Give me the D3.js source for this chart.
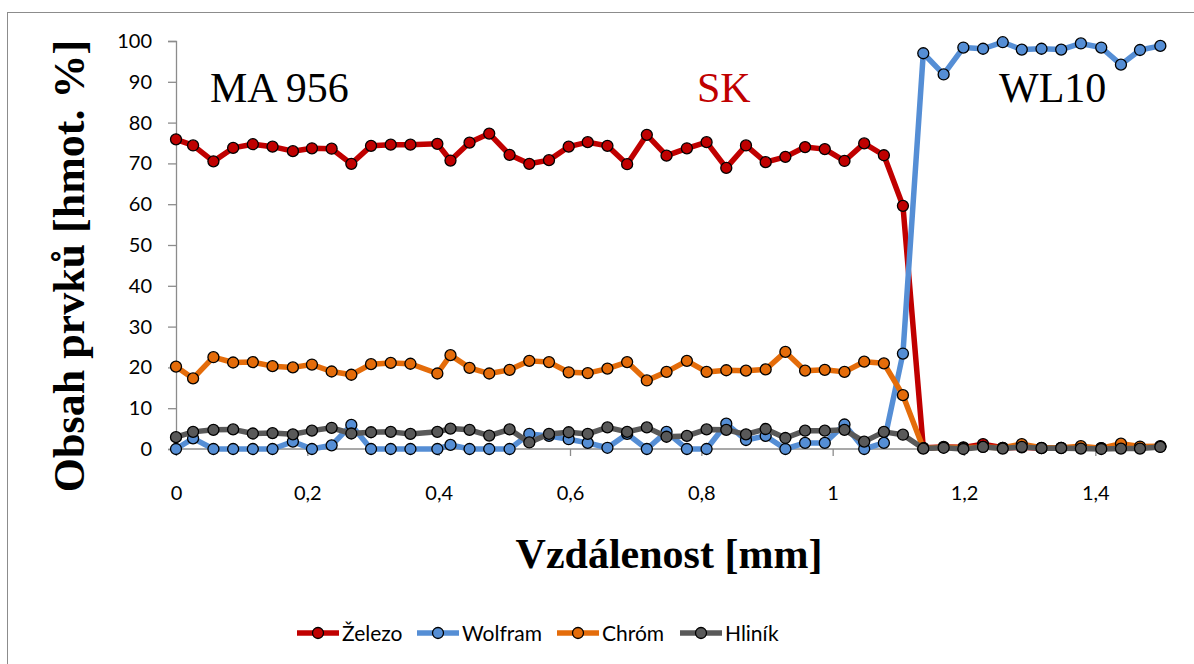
<!DOCTYPE html>
<html>
<head>
<meta charset="utf-8">
<script src="https://cdn.jsdelivr.net/npm/d3@7"></script>
<style>
  html, body { margin: 0; padding: 0; background: #fff; }
  svg { display: block; }
</style>
</head>
<body>
<svg id="chart" width="1194" height="664"></svg>
<script>
// Distance from the interface [mm]
const distance = [0, 0.026, 0.057, 0.087, 0.117, 0.147, 0.178, 0.207, 0.237, 0.267,
  0.297, 0.327, 0.357, 0.398, 0.418, 0.447, 0.477, 0.508, 0.538, 0.568,
  0.598, 0.627, 0.657, 0.687, 0.717, 0.747, 0.778, 0.808, 0.838, 0.868,
  0.898, 0.928, 0.958, 0.988, 1.018, 1.048, 1.078, 1.107, 1.138, 1.169,
  1.199, 1.229, 1.259, 1.288, 1.318, 1.348, 1.378, 1.409, 1.439, 1.468, 1.499];

// Element content [wt. %]
const zelezo = [75.9, 74.4, 70.5, 73.8, 74.7, 74.1, 73.0, 73.7, 73.6, 69.9,
  74.3, 74.6, 74.6, 74.8, 70.7, 75.1, 77.3, 72.1, 69.9, 70.8,
  74.1, 75.2, 74.3, 69.8, 77.0, 71.9, 73.7, 75.2, 68.9, 74.4,
  70.3, 71.6, 74.0, 73.5, 70.6, 74.9, 72.0, 59.6, 0.3, 0.5,
  0.4, 1.2, 0.3, 0.4, 0.2, 0.3, 0.3, 0.2, 0.5, 0.4, 0.6];
const wolfram = [0, 2.6, 0, 0, 0, 0, 1.8, 0, 0.9, 5.9,
  0, 0, 0, 0, 1.0, 0, 0, 0, 3.7, 3.2,
  2.4, 1.5, 0.3, 3.7, 0, 4.2, 0, 0, 6.2, 2.2,
  3.2, 0, 1.5, 1.5, 6.0, 0, 1.5, 23.4, 97.0, 91.8,
  98.4, 98.1, 99.7, 97.9, 98.1, 97.9, 99.4, 98.4, 94.2, 97.8, 98.8];
const chrom = [20.2, 17.3, 22.5, 21.2, 21.3, 20.3, 20.0, 20.7, 19.0, 18.2,
  20.8, 21.1, 20.9, 18.5, 23.0, 19.9, 18.5, 19.4, 21.6, 21.3,
  18.8, 18.6, 19.7, 21.3, 16.8, 18.9, 21.6, 18.9, 19.3, 19.2,
  19.5, 23.8, 19.2, 19.4, 18.9, 21.4, 21.0, 13.2, 0.2, 0.4,
  0.3, 0.5, 0.3, 1.2, 0.3, 0.3, 0.7, 0.2, 1.3, 0.6, 0.7];
const hlinik = [2.9, 4.2, 4.7, 4.8, 3.8, 3.9, 3.6, 4.5, 5.2, 3.8,
  4.1, 4.2, 3.7, 4.2, 5.0, 4.7, 3.3, 4.8, 1.6, 3.7,
  4.1, 3.7, 5.3, 4.2, 5.3, 3.0, 3.2, 4.8, 4.7, 3.6,
  4.9, 2.7, 4.5, 4.5, 4.7, 1.8, 4.2, 3.5, 0.1, 0.3,
  0, 0.5, 0.1, 0.5, 0.2, 0.2, 0.1, 0, 0.1, 0.1, 0.5];

const seriesNames = ["Železo", "Wolfram", "Chróm", "Hliník"];
const seriesColors = ["#C00000", "#558ED5", "#E46C0A", "#595959"];
const yTicks = [0, 10, 20, 30, 40, 50, 60, 70, 80, 90, 100];
const xTicks = [0, 0.2, 0.4, 0.6, 0.8, 1, 1.2, 1.4];
const zoneLabels = ["MA 956", "SK", "WL10"];

const series = [zelezo, wolfram, chrom, hlinik].map((vals, i) => ({
  name: seriesNames[i],
  color: seriesColors[i],
  points: vals.map((v, j) => ({ x: distance[j], y: v }))
}));

const svg = d3.select("#chart");
const axisColor = "#8C8C8C";
const tickFont = "Lato, 'Open Sans', sans-serif";
const serif = "'Liberation Serif', 'Times New Roman', serif";

// outer chart frame
svg.append("rect")
  .attr("x", 7.5).attr("y", 12.5)
  .attr("width", 1220).attr("height", 700)
  .attr("fill", "none").attr("stroke", "#8C8C8C").attr("stroke-width", 1);

const plot = { left: 176, right: 1161, top: 41, bottom: 449 };
const x = d3.scaleLinear().domain([0, 1.5]).range([plot.left, plot.right]);
const y = d3.scaleLinear().domain([0, 100]).range([plot.bottom, plot.top]);

// y axis
const yAxis = svg.append("g")
  .attr("transform", `translate(${plot.left},0)`)
  .call(d3.axisLeft(y).tickValues(yTicks).tickSize(8).tickPadding(16)
    .tickFormat(d => String(d)));
yAxis.select(".domain").attr("stroke", axisColor).attr("stroke-width", 1.3);
yAxis.selectAll(".tick line").attr("stroke", axisColor).attr("stroke-width", 1.3);
yAxis.selectAll(".tick text")
  .attr("font-family", tickFont).attr("font-size", 20).attr("fill", "#000");

// x axis
const xAxis = svg.append("g")
  .attr("transform", `translate(0,${plot.bottom})`)
  .call(d3.axisBottom(x).tickValues(xTicks).tickSize(7).tickPadding(30)
    .tickFormat(d => String(d).replace(".", ",")));
xAxis.select(".domain").attr("stroke", axisColor).attr("stroke-width", 1.3)
  .attr("d", `M${plot.left},0H${plot.right}`);
xAxis.selectAll(".tick line").attr("stroke", axisColor).attr("stroke-width", 1.3);
xAxis.selectAll(".tick text")
  .attr("font-family", tickFont).attr("font-size", 20).attr("fill", "#000");

// series lines and markers
const line = d3.line().x(d => x(d.x)).y(d => y(d.y));
series.forEach(s => {
  const g = svg.append("g");
  g.append("path")
    .attr("d", line(s.points))
    .attr("fill", "none")
    .attr("stroke", s.color)
    .attr("stroke-width", 5.5)
    .attr("stroke-linejoin", "round");
  g.selectAll("circle").data(s.points).join("circle")
    .attr("cx", d => x(d.x)).attr("cy", d => y(d.y))
    .attr("r", 5.5)
    .attr("fill", s.color)
    .attr("stroke", "#000").attr("stroke-width", 1.3);
});

// zone labels
svg.append("text").attr("x", 210).attr("y", 102)
  .attr("font-family", serif).attr("font-size", 42).attr("fill", "#000")
  .text(zoneLabels[0]);
svg.append("text").attr("x", 697).attr("y", 102)
  .attr("font-family", serif).attr("font-size", 42).attr("fill", "#C00000")
  .text(zoneLabels[1]);
svg.append("text").attr("x", 999).attr("y", 102)
  .attr("font-family", serif).attr("font-size", 42).attr("fill", "#000")
  .text(zoneLabels[2]);

// axis titles
svg.append("text")
  .attr("x", 669).attr("y", 568)
  .attr("text-anchor", "middle")
  .attr("font-family", serif).attr("font-weight", "bold").attr("font-size", 42)
  .text("Vzdálenost [mm]");
svg.append("text")
  .attr("transform", "translate(84,266) rotate(-90)")
  .attr("text-anchor", "middle")
  .attr("font-family", serif).attr("font-weight", "bold").attr("font-size", 44)
  .text("Obsah prvků [hmot. %]");

// legend
const legendX = [297, 417, 557, 680];
const legendY = 633;
series.forEach((s, i) => {
  const g = svg.append("g").attr("transform", `translate(${legendX[i]},${legendY})`);
  g.append("line").attr("x1", 0).attr("x2", 42).attr("y1", 0).attr("y2", 0)
    .attr("stroke", s.color).attr("stroke-width", 5.5);
  g.append("circle").attr("cx", 21).attr("cy", 0).attr("r", 5.5)
    .attr("fill", s.color).attr("stroke", "#000").attr("stroke-width", 1.3);
  g.append("text").attr("x", 45).attr("y", 7.5)
    .attr("font-family", tickFont).attr("font-size", 21).attr("fill", "#000")
    .text(s.name);
});
</script>
</body>
</html>
